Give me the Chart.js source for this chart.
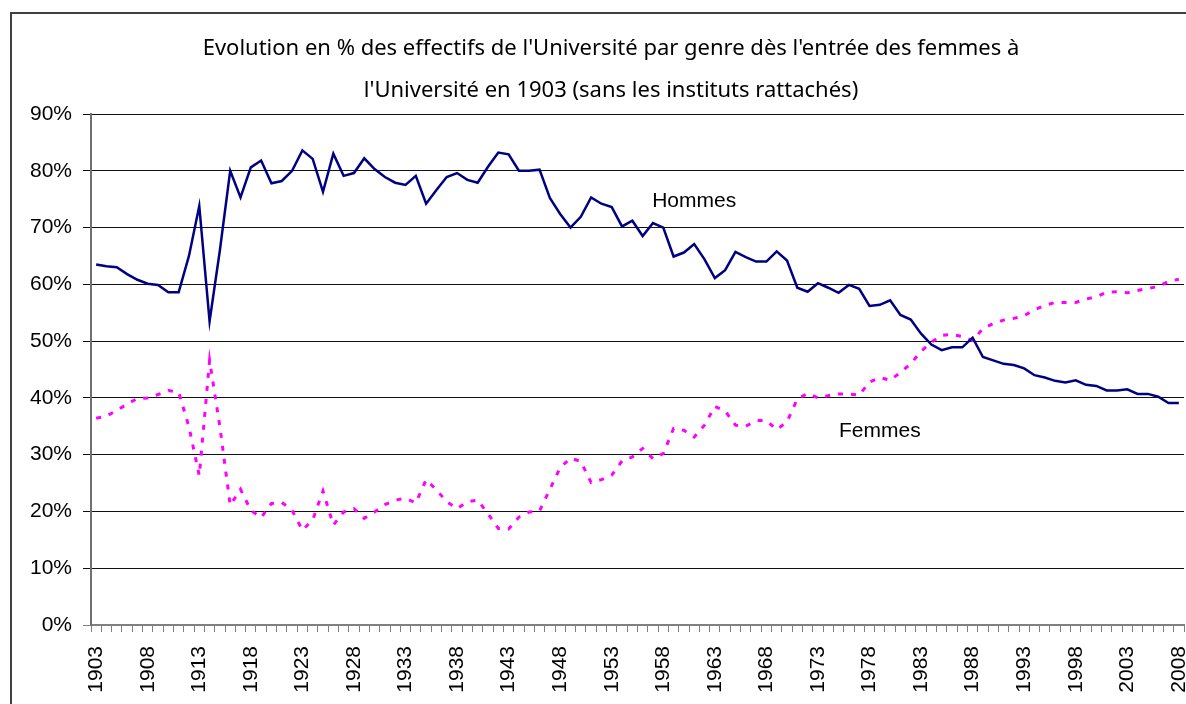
<!DOCTYPE html>
<html><head><meta charset="utf-8">
<script src="https://cdn.jsdelivr.net/npm/chart.js@4"></script>
<style>html,body{margin:0;padding:0;background:#fff;overflow:hidden}canvas{display:block}</style>
</head><body><canvas id="c" width="1186" height="704"></canvas>
<script>
const years = [];
for (let y = 1903; y <= 2008; y++) years.push(String(y));

const hommes = [63.5,63.2,63.0,61.8,60.8,60.1,59.9,58.6,58.6,65.0,
  73.8,53.5,66.0,80.0,75.3,80.6,81.8,77.8,78.2,80.0,
  83.6,82.1,76.3,83.0,79.1,79.6,82.2,80.3,78.9,77.9,
  77.5,79.1,74.2,76.6,78.9,79.6,78.4,77.9,80.7,83.2,
  82.9,80.0,80.0,80.2,75.2,72.4,70.0,71.9,75.3,74.2,
  73.6,70.2,71.2,68.5,70.8,70.0,64.9,65.6,67.1,64.4,
  61.1,62.5,65.7,64.8,64.0,64.0,65.8,64.2,59.4,58.7,
  60.2,59.4,58.5,59.9,59.2,56.2,56.4,57.2,54.6,53.8,
  51.3,49.4,48.4,48.9,48.9,50.6,47.2,46.6,46.0,45.8,
  45.2,44.0,43.6,43.0,42.7,43.1,42.3,42.1,41.3,41.3,
  41.5,40.7,40.7,40.2,39.1,39.1];

const femmes = [36.4,36.8,37.8,38.9,39.9,40.0,40.6,41.3,41.0,34.9,
  26.3,46.6,34.9,21.1,23.9,20.2,18.9,21.4,21.6,20.2,
  16.7,18.5,23.6,17.6,19.9,20.5,18.8,19.9,21.2,22.0,
  22.3,21.5,25.6,23.8,21.7,20.5,21.7,22.0,19.6,17.0,
  16.9,19.0,19.9,20.1,23.9,27.7,29.4,28.8,25.1,25.6,
  26.4,28.9,29.6,31.1,29.3,30.2,34.6,34.3,33.1,35.2,
  38.5,37.7,35.2,35.0,36.0,36.0,34.4,35.8,39.8,40.8,
  40.0,40.4,40.7,40.7,40.5,42.8,43.6,43.1,44.5,46.0,
  48.2,49.8,51.0,51.2,50.8,50.1,52.2,53.1,53.7,54.0,
  54.5,55.5,56.3,56.8,56.8,56.8,57.4,57.8,58.6,58.7,
  58.5,58.9,59.3,59.6,60.5,60.9];

const yMin = 0, yMax = 90, yStep = 10;
const titleLines = [
  "Evolution en % des effectifs de l'Université par genre dès l'entrée des femmes à",
  "l'Université en 1903 (sans les instituts rattachés)"
];
const seriesLabels = [
  { text: 'Hommes', year: '1961', value: 74.6 },
  { text: 'Femmes', year: '1979', value: 34.1 }
];

const decor = {
  id: 'decor',
  beforeDraw(chart) {
    const c = chart.ctx;
    c.save();
    c.fillStyle = '#fff';
    c.fillRect(0, 0, chart.width, chart.height);
    c.strokeStyle = '#404040';
    c.lineWidth = 2;
    c.beginPath();
    c.moveTo(11, chart.height + 5);
    c.lineTo(11, 13);
    c.lineTo(chart.width + 5, 13);
    c.stroke();
    c.restore();
  },
  afterDraw(chart) {
    const c = chart.ctx;
    c.save();
    c.fillStyle = '#000';
    c.textAlign = 'center';
    c.textBaseline = 'middle';
    c.font = '22px "Noto Sans"';
    c.fillText(titleLines[0], 611, 49);
    c.fillText(titleLines[1], 611, 91);
    const xs = chart.scales.x, ys = chart.scales.y;
    c.font = '21px "Liberation Sans", Arial';
    seriesLabels.forEach(l => {
      const px = xs.getPixelForValue(years.indexOf(l.year));
      const py = ys.getPixelForValue(l.value);
      c.fillText(l.text, px, py);
    });
    c.restore();
  }
};

new Chart(document.getElementById('c'), {
  type: 'line',
  data: {
    labels: years,
    datasets: [
      { label: 'Hommes', data: hommes, borderColor: '#000080', borderWidth: 2.5,
        pointRadius: 0, tension: 0, fill: false },
      { label: 'Femmes', data: femmes, borderColor: '#FF00FF', borderWidth: 3,
        borderDash: [5, 8], pointRadius: 0, tension: 0, fill: false }
    ]
  },
  options: {
    responsive: false,
    animation: false,
    devicePixelRatio: 1,
    layout: { padding: { top: 114, right: 2, left: 0, bottom: 0 } },
    plugins: { legend: { display: false }, tooltip: { enabled: false }, title: { display: false } },
    scales: {
      x: {
        type: 'category',
        offset: true,
        grid: { offset: true, drawOnChartArea: false, drawTicks: true, tickLength: 7, color: '#808080', lineWidth: 1 },
        border: { color: '#808080', width: 2 },
        ticks: {
          autoSkip: false, maxRotation: 90, minRotation: 90, padding: 14,
          color: '#000', font: { family: '"Liberation Sans", Arial', size: 21 },
          callback: (v, i) => (i % 5 === 0 ? years[i] : '')
        },
        afterFit: s => { s.height = 79; s.paddingLeft = 0; s.paddingRight = 0; }
      },
      y: {
        min: yMin, max: yMax,
        ticks: {
          stepSize: yStep, padding: 11, color: '#000',
          font: { family: '"Liberation Sans", Arial', size: 21 },
          callback: v => v + '%'
        },
        grid: { color: ctx => (ctx.tick && ctx.tick.value === 0 ? '#808080' : '#111'), lineWidth: 1, tickLength: 8 },
        border: { color: '#707070', width: 2 },
        afterFit: s => { s.width = 91; s.paddingTop = 0; s.paddingBottom = 0; }
      }
    }
  },
  plugins: [decor]
});
</script>
</body></html>
